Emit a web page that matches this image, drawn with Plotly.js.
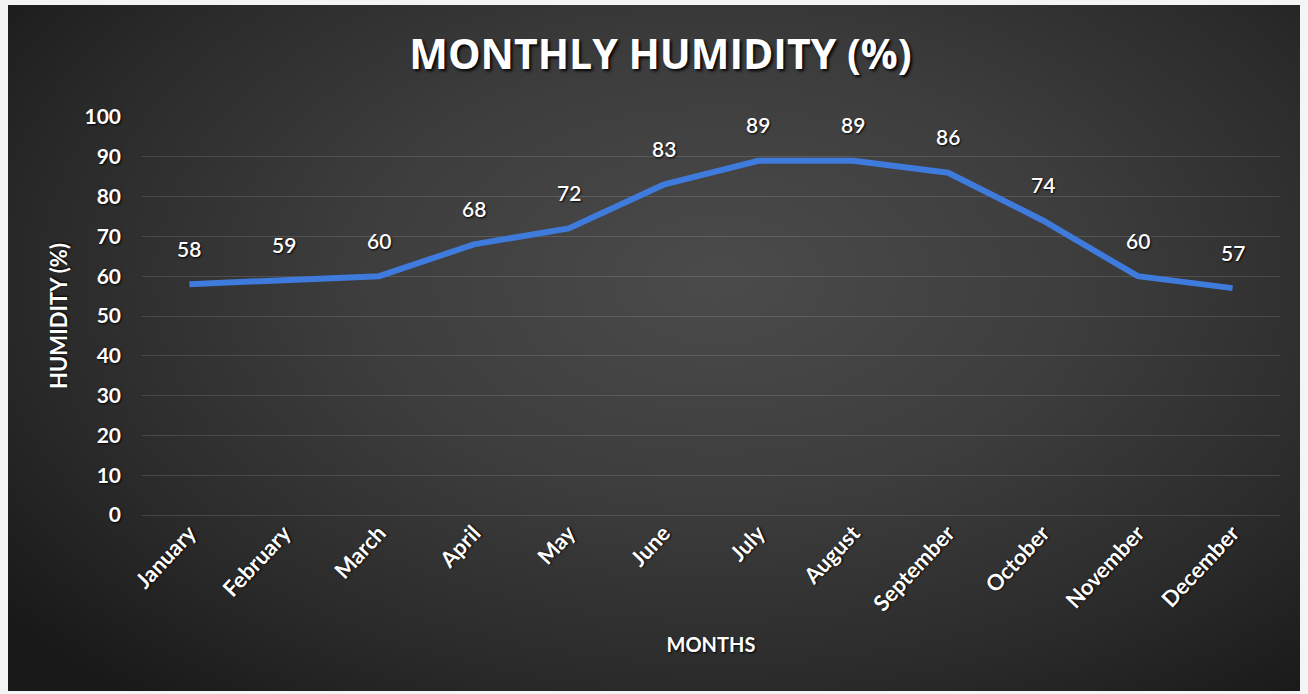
<!DOCTYPE html>
<html>
<head>
<meta charset="utf-8">
<script src="https://cdn.plot.ly/plotly-3.0.1.min.js"></script>
<style>
  html, body { margin: 0; padding: 0; background: #f4f4f4; width: 1308px; height: 694px; overflow: hidden; }
  #frame {
    position: absolute; left: 8px; top: 5px; width: 1292px; height: 686px;
    background: radial-gradient(ellipse 70% 80% at 55% 40%, #4b4b4b 0%, #3d3d3d 40%, #2a2a2a 75%, #191919 100%);
  }
  #chart { position: absolute; left: 0; top: 0; width: 1292px; height: 686px; }
</style>
</head>
<body>
<div id="frame"><div id="chart"></div></div>
<script>
const months = ["January","February","March","April","May","June","July","August","September","October","November","December"];
const humidity = [58, 59, 60, 68, 72, 83, 89, 89, 86, 74, 60, 57];
const yTicks = [0,10,20,30,40,50,60,70,80,90,100];

const FONT = "Lato, 'Open Sans', 'Liberation Sans', sans-serif";
const TFONT = "'Open Sans', Lato, 'Liberation Sans', sans-serif";
const SHADOW = "1px 1px 2px rgba(0,0,0,0.95)";

const trace = {
  x: months,
  y: humidity,
  type: "scatter",
  mode: "lines",
  line: { color: "#3f7bdc", width: 6, shape: "linear" },
  hoverinfo: "x+y",
  showlegend: false
};

const labels = months.map((m, i) => ({
  x: m, y: humidity[i], text: String(humidity[i]),
  showarrow: false, yshift: 36, xanchor: "center", yanchor: "middle",
  font: { family: FONT, size: 21, color: "#ffffff", weight: 600, shadow: SHADOW }
}));

const layout = {
  width: 1292, height: 686,
  paper_bgcolor: "rgba(0,0,0,0)",
  plot_bgcolor: "rgba(0,0,0,0)",
  margin: { l: 134, r: 20, t: 112, b: 176 },
  title: {
    text: "MONTHLY HUMIDITY (%)",
    x: 0.505, xanchor: "center", y: 0.927, yanchor: "middle",
    font: { family: TFONT, size: 41, color: "#ffffff", weight: 700, shadow: "2px 2px 3px rgba(0,0,0,0.95)" }
  },
  xaxis: {
    type: "category",
    categoryorder: "array", categoryarray: months,
    range: [-0.5, 11.5],
    tickangle: -47,
    showgrid: false, zeroline: false, showline: false, ticks: "",
    tickfont: { family: FONT, size: 22, color: "#ffffff", weight: 700, shadow: SHADOW },
    title: { text: "MONTHS", standoff: 22, font: { family: FONT, size: 20, color: "#ffffff", weight: 700, shadow: SHADOW } }
  },
  yaxis: {
    range: [0, 100],
    tickvals: yTicks,
    ticktext: yTicks.map(String),
    showgrid: true, gridcolor: "rgba(255,255,255,0.13)", gridwidth: 1,
    zeroline: true, zerolinecolor: "rgba(255,255,255,0.13)", zerolinewidth: 1,
    showline: false, ticks: "",
    ticklabelstandoff: 20,
    tickfont: { family: FONT, size: 21, color: "#ffffff", weight: 700, shadow: SHADOW },
    title: { text: "HUMIDITY (%)", standoff: 10, font: { family: FONT, size: 22, color: "#ffffff", weight: 700, shadow: SHADOW } }
  },
  annotations: labels
};

Plotly.newPlot("chart", [trace], layout, { displayModeBar: false, responsive: false });
</script>
</body>
</html>
